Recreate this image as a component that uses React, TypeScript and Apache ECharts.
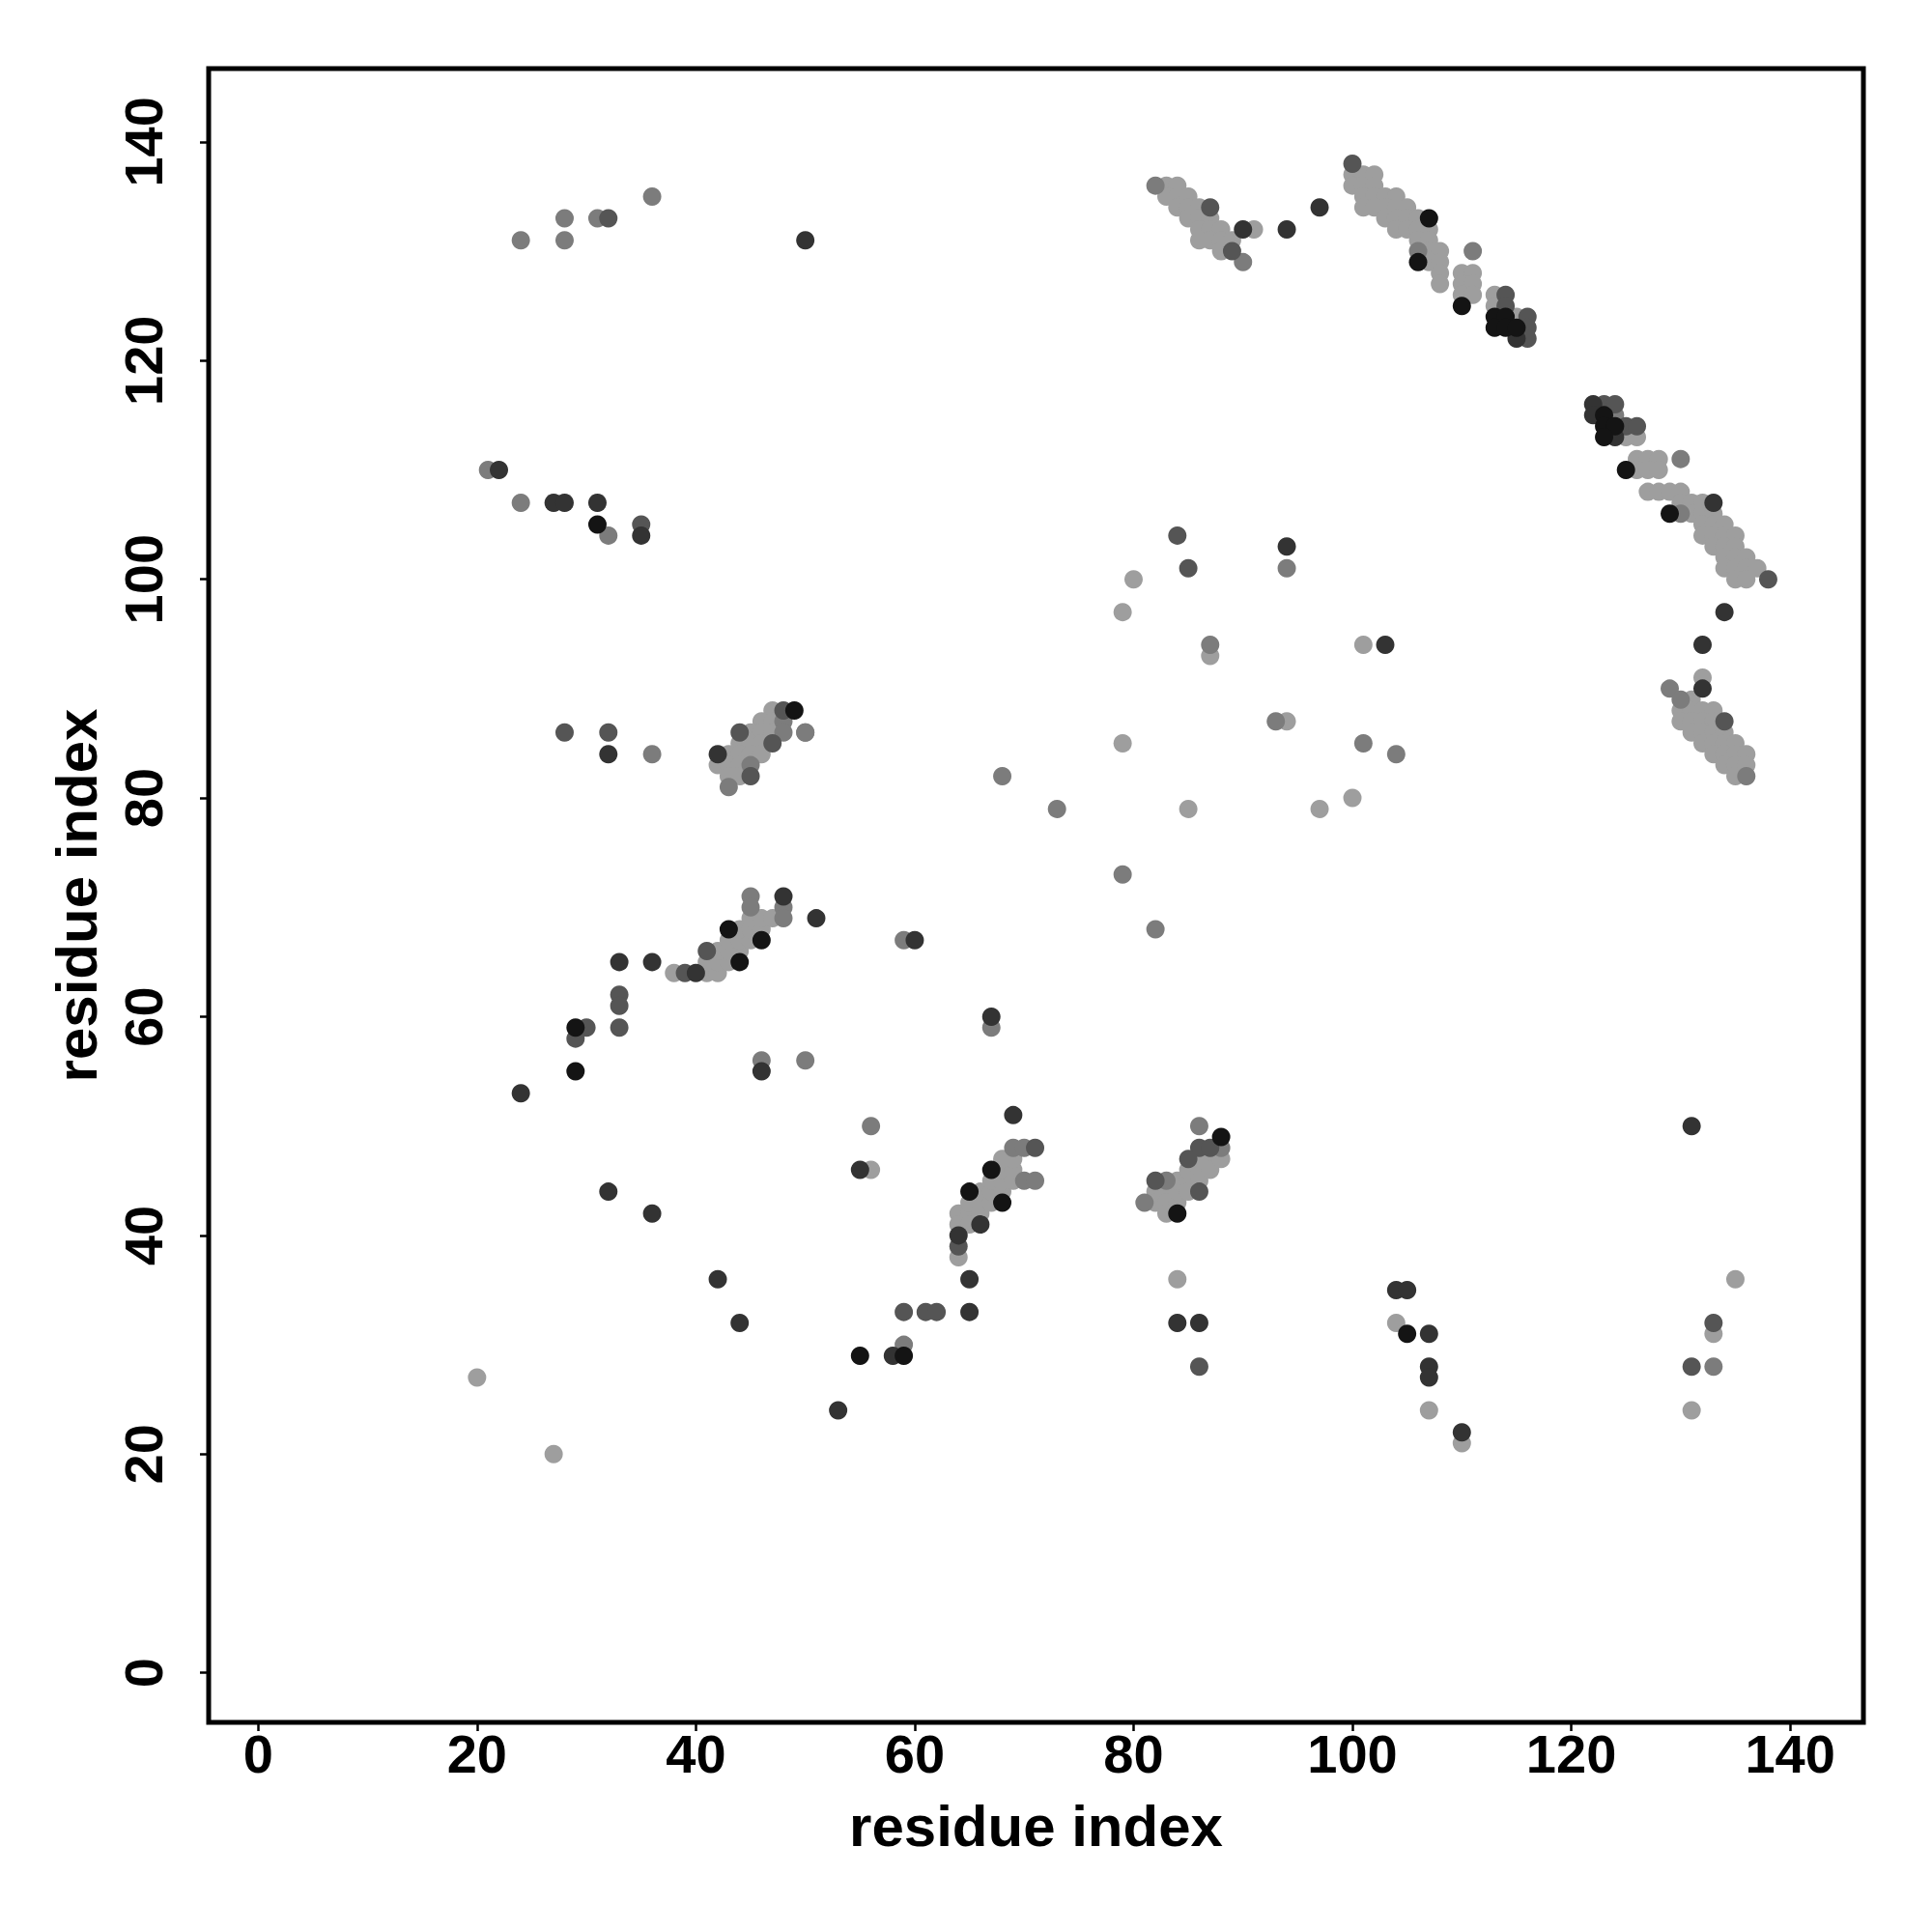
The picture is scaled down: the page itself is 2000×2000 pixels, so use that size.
import React, { useEffect, useRef } from "react";
import * as echarts from "echarts";

// Contact-map points [residue i, residue j], grouped by shade
const blackPts: number[][] = [
  [29, 59], [29, 55], [31, 105], [55, 29], [59, 29], [43, 68], [46, 67], [44, 65],
  [49, 88], [67, 46], [65, 44], [68, 43], [84, 42], [88, 49], [106, 129], [110, 125],
  [113, 124], [114, 124], [113, 123], [114, 123], [115, 123], [123, 115], [123, 114],
  [124, 114], [123, 113], [125, 110], [129, 106], [105, 31], [107, 133],
];
const darkPts: number[][] = [
  [50, 131], [22, 110], [27, 107], [28, 107], [31, 107], [35, 104], [32, 84], [51, 69],
  [36, 65], [33, 65], [24, 53], [32, 44], [36, 42], [42, 36], [44, 32], [46, 55],
  [55, 46], [60, 67], [67, 60], [69, 51], [53, 24], [58, 29], [65, 33], [65, 36],
  [94, 103], [103, 94], [94, 132], [97, 134], [90, 132], [84, 32], [86, 32], [104, 35],
  [105, 35], [107, 31], [107, 28], [107, 27], [110, 22], [131, 50], [134, 97], [132, 94],
  [42, 84], [48, 71], [40, 64], [66, 41], [64, 40], [115, 122], [122, 116], [122, 115],
  [124, 113], [133, 107], [132, 90],
];
const dkGrayPts: number[][] = [
  [32, 133], [35, 105], [28, 86], [32, 86], [33, 62], [33, 61], [33, 59], [30, 59],
  [29, 58], [59, 33], [61, 33], [62, 33], [84, 104], [85, 101], [86, 28], [133, 32],
  [131, 28], [87, 134], [89, 130], [100, 138], [114, 126], [114, 125], [116, 124],
  [116, 123], [116, 122], [123, 116], [124, 116], [125, 114], [126, 114], [138, 100],
  [134, 87], [44, 86], [47, 85], [45, 82], [48, 88], [41, 66], [39, 64], [64, 39],
  [71, 48], [86, 48], [87, 48], [85, 47], [82, 45], [86, 44],
];
const grayPts: number[][] = [
  [24, 131], [28, 133], [28, 131], [31, 133], [36, 135], [21, 110], [24, 107], [32, 104],
  [36, 84], [50, 86], [46, 56], [50, 56], [56, 50], [59, 67], [67, 59], [59, 30],
  [68, 82], [73, 79], [79, 73], [82, 68], [87, 94], [94, 101], [93, 87], [101, 85],
  [104, 84], [133, 28], [82, 136], [90, 129], [106, 130], [111, 130], [124, 115],
  [130, 111], [130, 106], [129, 90], [130, 89], [136, 82], [48, 87], [48, 86], [50, 86],
  [45, 83], [43, 81], [45, 71], [45, 70], [48, 70], [48, 69], [69, 48], [70, 48],
  [70, 45], [71, 45], [86, 50], [88, 48], [83, 45], [81, 43],
];
const lightPts: number[][] = [
  [20, 27], [27, 20], [56, 46], [79, 97], [80, 100], [79, 85], [85, 79], [87, 93],
  [94, 87], [97, 79], [100, 80], [101, 94], [84, 36], [104, 32], [107, 24], [110, 21],
  [135, 36], [133, 31], [131, 24], [91, 132],
  // band near (83-89, 130-136)
  [83, 136], [84, 136], [83, 135], [84, 135], [85, 135], [84, 134], [85, 134], [86, 134],
  [85, 133], [86, 133], [87, 133], [86, 132], [87, 132], [88, 132], [86, 131], [87, 131],
  [88, 131], [89, 131], [88, 130],
  // band near (100-111, 126-137)
  [100, 137], [101, 137], [102, 137], [100, 136], [101, 136], [102, 136], [101, 135],
  [102, 135], [103, 135], [104, 135], [101, 134], [102, 134], [103, 134], [104, 134],
  [105, 134], [103, 133], [104, 133], [105, 133], [106, 133], [104, 132], [105, 132],
  [106, 132], [107, 132], [106, 131], [107, 131], [107, 130], [108, 130], [107, 129],
  [108, 129], [108, 128], [108, 127], [110, 128], [111, 128], [110, 127], [111, 127],
  [110, 126], [111, 126], [113, 126], [113, 125], [115, 124],
  // band near (125-137, 100-113)
  [125, 113], [126, 113], [126, 111], [127, 111], [128, 111], [126, 110], [127, 110],
  [128, 110], [127, 108], [128, 108], [129, 108], [130, 108], [130, 107], [131, 107],
  [132, 107], [131, 106], [132, 106], [133, 106], [132, 105], [133, 105], [134, 105],
  [132, 104], [133, 104], [134, 104], [135, 104], [133, 103], [134, 103], [135, 103],
  [134, 102], [135, 102], [136, 102], [134, 101], [135, 101], [136, 101], [137, 101],
  [135, 100], [136, 100],
  // band near (130-136, 82-91)
  [132, 91], [131, 89], [130, 88], [131, 88], [132, 88], [133, 88], [130, 87], [131, 87],
  [132, 87], [133, 87], [131, 86], [132, 86], [133, 86], [134, 86], [132, 85], [133, 85],
  [134, 85], [135, 85], [133, 84], [134, 84], [135, 84], [136, 84], [134, 83], [135, 83],
  [136, 83], [135, 82],
  // band near (42-47, 82-88)
  [47, 88], [46, 87], [47, 87], [45, 86], [46, 86], [47, 86], [44, 85], [45, 85], [46, 85],
  [43, 84], [44, 84], [45, 84], [46, 84], [42, 83], [43, 83], [44, 83], [43, 82], [44, 82],
  // band near (38-47, 64-70)
  [38, 64], [41, 64], [42, 64], [41, 65], [42, 65], [43, 65], [42, 66], [43, 66], [44, 66],
  [43, 67], [44, 67], [45, 67], [44, 68], [45, 68], [46, 68], [45, 69], [46, 69], [47, 69],
  // band near (64-70, 38-47)
  [64, 38], [64, 42], [64, 41], [65, 42], [65, 41], [65, 43], [66, 42], [66, 43], [66, 44],
  [67, 43], [67, 44], [67, 45], [68, 44], [68, 45], [68, 46], [69, 45], [69, 46], [69, 47],
  [68, 47],
  // band near (82-88, 42-47)
  [82, 44], [83, 44], [82, 43], [83, 43], [84, 43], [84, 44], [83, 42], [84, 45], [85, 45],
  [85, 44], [85, 46], [86, 46], [86, 45], [86, 47], [87, 47], [87, 46], [88, 47],
];

const tickValues: number[] = [0, 20, 40, 60, 80, 100, 120, 140];
const axisTitle = "residue index";

const FONT = "Liberation Sans";

export default function App() {
  const ref = useRef<HTMLDivElement>(null);
  useEffect(() => {
    if (!ref.current) return;
    const chart = echarts.init(ref.current, null, { renderer: "svg" });
    const mk = (data: number[][], color: string) => ({
      type: "scatter",
      data,
      symbol: "circle",
      symbolSize: 19,
      itemStyle: { color, opacity: 1 },
      emphasis: { disabled: true },
    });
    const axisCommon = {
      type: "value",
      min: -4.53,
      max: 146.7,
      splitLine: { show: false },
      axisLine: { show: false, onZero: false },
      axisTick: {
        show: true,
        length: 9,
        customValues: tickValues,
        lineStyle: { color: "#000", width: 2.5 },
      },
      nameLocation: "middle",
      nameTextStyle: { fontFamily: FONT, fontWeight: "bold", fontSize: 60, color: "#000" },
    };
    chart.setOption({
      animation: false,
      backgroundColor: "#fff",
      grid: {
        left: 216,
        top: 71,
        width: 1713,
        height: 1712,
        show: true,
        borderColor: "#000",
        borderWidth: 5,
        backgroundColor: "transparent",
      },
      xAxis: {
        ...axisCommon,
        name: axisTitle,
        nameGap: 77,
        axisLabel: {
          customValues: tickValues,
          fontFamily: FONT,
          fontWeight: "bold",
          fontSize: 56,
          color: "#000",
          margin: 4,
        },
      },
      yAxis: {
        ...axisCommon,
        name: axisTitle,
        nameGap: 107,
        axisLabel: {
          customValues: tickValues,
          fontFamily: FONT,
          fontWeight: "bold",
          fontSize: 56,
          color: "#000",
          rotate: 90,
          margin: 40,
        },
      },
      series: [
        mk(lightPts, "#9e9e9e"),
        mk(grayPts, "#7c7c7c"),
        mk(dkGrayPts, "#555555"),
        mk(darkPts, "#333333"),
        mk(blackPts, "#141414"),
      ],
    });
    return () => chart.dispose();
  }, []);
  return (
    <div
      ref={ref}
      style={{ position: "absolute", left: 0, top: 0, width: 2000, height: 2000 }}
    />
  );
}
